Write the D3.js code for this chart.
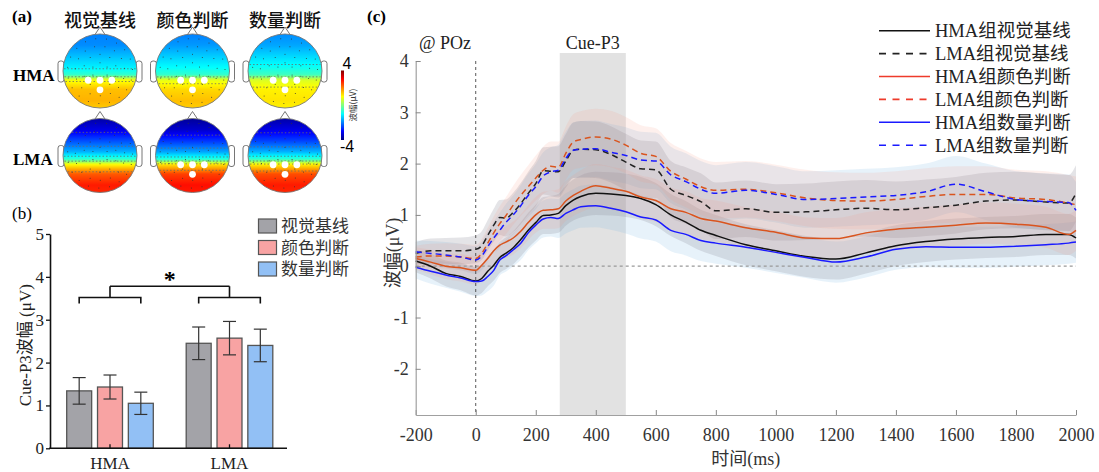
<!DOCTYPE html>
<html><head><meta charset="utf-8">
<script src="https://cdn.jsdelivr.net/npm/d3@7"></script>
<style>body{margin:0;background:#fff}svg{display:block}</style>
</head><body><svg id="chart" width="1099" height="472"></svg>
<script>
// ---------------- DATA ----------------
// (a) topographic maps: front-to-back value profiles (µV)
const topoConditions = ["视觉基线", "颜色判断", "数量判断"];
const topoGroups = ["HMA", "LMA"];
const topoStops = [0, 0.15, 0.3, 0.45, 0.55, 0.62, 0.75, 0.9, 1];
const topoHmaVisual = [-2.0, -1.9, -1.5, -1.1, -0.6, 0.9, 1.5, 1.6, 1.4];
const topoHmaColor  = [-2.0, -1.8, -1.4, -1.0, -0.6, 0.8, 1.3, 1.5, 1.4];
const topoHmaNumber = [-1.9, -1.7, -1.3, -0.9, -0.5, 0.7, 1.1, 1.2, 1.1];
const topoLmaVisual = [-3.7, -3.2, -2.4, -1.6, -0.6, 1.0, 2.3, 2.8, 2.7];
const topoLmaColor  = [-3.8, -3.4, -2.6, -1.7, -0.7, 1.2, 2.5, 2.9, 2.8];
const topoLmaNumber = [-3.7, -3.2, -2.5, -1.6, -0.6, 1.1, 2.4, 2.8, 2.7];
const topoMarked = [[true, true, true], [false, true, true]];
const colorbarTicks = ["4", "-4"];

// (b) bar chart
const barGroups = ["HMA", "LMA"];
const barConditions = ["视觉基线", "颜色判断", "数量判断"];
const hmaBarMeans = [1.34, 1.43, 1.05];
const hmaBarErr   = [0.31, 0.28, 0.26];
const lmaBarMeans = [2.45, 2.57, 2.40];
const lmaBarErr   = [0.38, 0.39, 0.38];
const barTicks = [0, 1, 2, 3, 4, 5];

// (c) ERP waveforms @ POz
const times = [-200,-150,-100,-50,0,20,40,60,80,100,125,150,175,200,225,250,275,300,325,350,400,450,500,550,600,650,700,750,800,900,1000,1100,1200,1300,1400,1500,1600,1700,1800,1900,1975,2000];
const hmaVisual = [0.10,0.0,-0.14,-0.2,-0.29,-0.24,-0.1,0.02,0.17,0.25,0.36,0.52,0.7,0.85,0.99,1.0,1.03,1.18,1.29,1.36,1.42,1.41,1.38,1.32,1.2,1.0,0.86,0.7,0.6,0.42,0.3,0.19,0.14,0.26,0.4,0.48,0.53,0.56,0.58,0.62,0.62,0.55];
const lmaVisual = [0.25,0.3,0.3,0.3,0.33,0.4,0.6,0.8,0.95,0.94,1.05,1.22,1.42,1.61,1.86,1.85,1.84,2.05,2.26,2.28,2.27,2.18,2.03,1.9,1.88,1.5,1.38,1.26,1.08,1.12,1.05,1.06,1.1,1.13,1.1,1.14,1.19,1.27,1.29,1.25,1.23,1.42];
const hmaColor  = [0.15,0.08,0.0,-0.03,-0.08,0.02,0.15,0.3,0.41,0.47,0.55,0.68,0.85,1.0,1.09,1.1,1.12,1.27,1.38,1.46,1.57,1.52,1.46,1.35,1.28,1.12,1.05,0.93,0.88,0.75,0.66,0.55,0.54,0.65,0.72,0.76,0.8,0.84,0.82,0.76,0.62,0.7];
const lmaColor  = [0.18,0.2,0.2,0.18,0.15,0.25,0.45,0.65,0.83,0.98,1.19,1.38,1.55,1.72,1.87,1.95,1.93,2.2,2.42,2.47,2.52,2.48,2.36,2.2,2.14,1.85,1.7,1.55,1.48,1.5,1.43,1.33,1.28,1.27,1.3,1.36,1.4,1.4,1.33,1.3,1.23,1.2];
const hmaNumber = [-0.02,-0.1,-0.17,-0.23,-0.3,-0.29,-0.2,-0.08,0.12,0.2,0.32,0.45,0.65,0.8,0.92,0.95,0.93,1.03,1.1,1.16,1.18,1.13,1.06,0.96,0.9,0.7,0.62,0.5,0.45,0.37,0.27,0.17,0.08,0.18,0.33,0.38,0.37,0.37,0.39,0.42,0.45,0.47];
const lmaNumber = [0.28,0.25,0.22,0.18,0.12,0.2,0.38,0.55,0.7,0.85,1.0,1.18,1.38,1.55,1.76,1.84,1.87,2.1,2.26,2.28,2.29,2.22,2.16,2.07,2.05,1.78,1.65,1.5,1.42,1.48,1.4,1.3,1.32,1.35,1.38,1.45,1.6,1.45,1.3,1.26,1.24,1.09];
const seHMA = [0.22,0.24,0.25,0.27,0.28,0.28,0.29,0.3,0.3,0.31,0.32,0.33,0.34,0.35,0.36,0.37,0.38,0.39,0.4,0.41,0.42,0.42,0.42,0.42,0.42,0.41,0.41,0.4,0.4,0.4,0.4,0.4,0.4,0.4,0.4,0.4,0.4,0.4,0.4,0.4,0.4,0.4];
const seLMA = [0.22,0.24,0.25,0.26,0.27,0.28,0.3,0.32,0.34,0.36,0.38,0.4,0.42,0.44,0.46,0.48,0.5,0.52,0.54,0.55,0.55,0.55,0.55,0.55,0.55,0.55,0.55,0.55,0.55,0.55,0.55,0.55,0.55,0.55,0.55,0.55,0.55,0.55,0.55,0.55,0.55,0.55];
const erpXTicks = [-200,0,200,400,600,800,1000,1200,1400,1600,1800,2000];
const erpYTicks = [-2,-1,0,1,2,3,4];
const erpLegend = ["HMA组视觉基线","LMA组视觉基线","HMA组颜色判断","LMA组颜色判断","HMA组数量判断","LMA组数量判断"];
const cueWindow = [280, 500];

// ---------------- DRAW ----------------
const SERIF = "'Liberation Serif','Times New Roman','Noto Sans CJK SC',serif";
const CJK = "'Noto Sans CJK SC','Liberation Serif',sans-serif";
const plain = d => String(d);
const svg = d3.select("#chart");
svg.append("rect").attr("width",1099).attr("height",472).attr("fill","#fff");
const defs = svg.append("defs");

function jet(t){
  const c = x => Math.max(0, Math.min(1, x));
  return d3.rgb(255*c(1.5-Math.abs(4*t-3)), 255*c(1.5-Math.abs(4*t-2)), 255*c(1.5-Math.abs(4*t-1))).formatHex();
}
const vToT = d3.scaleLinear().domain([-4,4]).range([0,1]).clamp(true);

// ===== (a) =====
svg.append("text").attr("x",12).attr("y",22).attr("font-family",SERIF).attr("font-weight","bold").attr("font-size",17).text("(a)");
const colX = d3.scalePoint().domain(topoConditions).range([100,285]);
const rowY = d3.scalePoint().domain(topoGroups).range([71,155.5]);
const R = 37;
topoConditions.forEach(c => {
  svg.append("text").attr("x",colX(c)).attr("y",27).attr("text-anchor","middle")
    .attr("font-family",CJK).attr("font-weight",500).attr("font-size",18).attr("fill","#111").text(c);
});
topoGroups.forEach(g => {
  svg.append("text").attr("x",13).attr("y",rowY(g)+9.5).attr("font-family",SERIF)
    .attr("font-weight","bold").attr("font-size",17).text(g);
});
const profiles = [[topoHmaVisual, topoHmaColor, topoHmaNumber],[topoLmaVisual, topoLmaColor, topoLmaNumber]];
const rings = [[0.22,6],[0.45,10],[0.67,15],[0.88,19]];
topoGroups.forEach((g, gi) => {
  topoConditions.forEach((c, ci) => {
    const cx = colX(c), cy = rowY(g), prof = profiles[gi][ci];
    const interp = d3.scaleLinear().domain(topoStops).range(prof);
    const id = `grad${gi}${ci}`;
    const grad = defs.append("linearGradient").attr("id",id).attr("x1",0).attr("y1",0).attr("x2",0).attr("y2",1);
    d3.range(0,61).forEach(k => {
      const p = k/60;
      grad.append("stop").attr("offset",p).attr("stop-color",jet(vToT(interp(p))));
    });
    const head = svg.append("g");
    [-1,1].forEach(s => {
      head.append("rect").attr("x", s<0 ? cx-R-5 : cx+R-1).attr("y",cy-10).attr("width",6).attr("height",21)
        .attr("rx",2.5).attr("fill","#fff").attr("stroke","#666").attr("stroke-width",0.9);
    });
    head.append("path").attr("d",`M${cx-6},${cy-R+2}L${cx},${cy-R-7}L${cx+6},${cy-R+2}`)
      .attr("fill","#fff").attr("stroke","#666").attr("stroke-width",0.9);
    head.append("circle").attr("cx",cx).attr("cy",cy).attr("r",R).attr("fill",`url(#${id})`)
      .attr("stroke","#777").attr("stroke-width",0.9);
    [-3,-2,-1,0,1,2,3].forEach(lv => {
      for (let k=0;k<prof.length-1;k++){
        const a=prof[k], b=prof[k+1];
        if ((a-lv)*(b-lv) < 0){
          const p = topoStops[k] + (lv-a)/(b-a)*(topoStops[k+1]-topoStops[k]);
          const dy = -R + 2*R*p; const hw = Math.sqrt(Math.max(0,R*R-dy*dy))-1;
          head.append("line").attr("x1",cx-hw).attr("x2",cx+hw).attr("y1",cy+dy).attr("y2",cy+dy)
            .attr("stroke","#6a6a6a").attr("stroke-width",0.8).attr("stroke-dasharray","1.5,2");
        }
      }
    });
    rings.forEach(([rf,n]) => {
      d3.range(n).forEach(k => {
        const ang = 2*Math.PI*k/n + (n%2?0.2:0);
        head.append("circle").attr("cx",cx+rf*R*Math.sin(ang)).attr("cy",cy-rf*R*Math.cos(ang)).attr("r",0.5).attr("fill","#333");
      });
    });
    if (topoMarked[gi][ci]) {
      [[-0.32,0.25],[0,0.25],[0.32,0.25],[0,0.51]].forEach(([dx,dy]) => {
        head.append("circle").attr("cx",cx+dx*R).attr("cy",cy+dy*R).attr("r",3.4).attr("fill","#fff");
      });
    }
  });
});
const cbGrad = defs.append("linearGradient").attr("id","cbar").attr("x1",0).attr("y1",0).attr("x2",0).attr("y2",1);
d3.range(0,41).forEach(k => cbGrad.append("stop").attr("offset",k/40).attr("stop-color",jet(1-k/40)));
svg.append("rect").attr("x",341).attr("y",70.5).attr("width",3).attr("height",69.5).attr("fill","url(#cbar)");
svg.append("text").attr("x",347).attr("y",68.5).attr("text-anchor","middle").attr("font-family","'Liberation Sans',Arial,sans-serif").attr("font-size",16).text(colorbarTicks[0]);
svg.append("text").attr("x",347).attr("y",152).attr("text-anchor","middle").attr("font-family","'Liberation Sans',Arial,sans-serif").attr("font-size",16).text(colorbarTicks[1]);
svg.append("text").attr("transform","translate(356,105) rotate(-90)").attr("text-anchor","middle")
  .attr("font-family",CJK).attr("font-size",8.5).attr("fill","#333").text("波幅(μV)");

// ===== (b) =====
svg.append("text").attr("x",12).attr("y",219).attr("font-family",SERIF).attr("font-size",17).text("(b)");
const yB = d3.scaleLinear().domain([0,5]).range([448.3,234]);
const xG = d3.scalePoint().domain(barGroups).range([110,229.5]);
const xI = d3.scaleBand().domain(barConditions).range([-43.3,43.3]).paddingInner(0.19).paddingOuter(0);
const barFill = ["#a3a3a8","#f8a3a3","#92c0f5"];
const means = [hmaBarMeans, lmaBarMeans], errs = [hmaBarErr, lmaBarErr];
barGroups.forEach((g, gi) => {
  barConditions.forEach((c, ci) => {
    const x0 = xG(g) + xI(c), w = xI.bandwidth(), m = means[gi][ci], e = errs[gi][ci];
    svg.append("rect").attr("x",x0).attr("y",yB(m)).attr("width",w).attr("height",yB(0)-yB(m))
      .attr("fill",barFill[ci]).attr("stroke","#555").attr("stroke-width",1.3);
    const xc = x0 + w/2;
    svg.append("line").attr("x1",xc).attr("x2",xc).attr("y1",yB(m-e)).attr("y2",yB(m+e)).attr("stroke","#333").attr("stroke-width",1.2);
    [m-e, m+e].forEach(v => svg.append("line").attr("x1",xc-6.5).attr("x2",xc+6.5).attr("y1",yB(v)).attr("y2",yB(v)).attr("stroke","#333").attr("stroke-width",1.2));
  });
});
const yAxB = svg.append("g").attr("transform","translate(50,0)")
  .call(d3.axisLeft(yB).tickValues(barTicks).tickSizeInner(4).tickSizeOuter(0).tickPadding(2).tickFormat(plain));
yAxB.select(".domain").attr("stroke","#111").attr("stroke-width",1.6);
yAxB.selectAll(".tick line").attr("stroke","#111").attr("stroke-width",1.3);
yAxB.selectAll("text").attr("font-family",SERIF).attr("font-size",17).attr("fill","#222");
svg.append("line").attr("x1",49.2).attr("x2",287).attr("y1",yB(0)).attr("y2",yB(0)).attr("stroke","#111").attr("stroke-width",1.6);
barGroups.forEach(g => {
  svg.append("line").attr("x1",xG(g)).attr("x2",xG(g)).attr("y1",yB(0)).attr("y2",yB(0)-4).attr("stroke","#111").attr("stroke-width",1.3);
  svg.append("text").attr("x",xG(g)).attr("y",469).attr("text-anchor","middle").attr("font-family",SERIF).attr("font-size",17).attr("fill","#222").text(g);
});
svg.append("text").attr("transform",`translate(31,${(yB(0)+yB(5))/2+4}) rotate(-90)`).attr("text-anchor","middle")
  .attr("font-family",SERIF).attr("font-size",17).attr("fill","#222").text("Cue-P3波幅 (μV)");
const br = svg.append("g").attr("stroke","#111").attr("stroke-width",1.6).attr("fill","none");
barGroups.forEach(g => {
  const xl = xG(g)+xI(barConditions[0])+xI.bandwidth()/2, xr = xG(g)+xI(barConditions[2])+xI.bandwidth()/2;
  br.append("path").attr("d",`M${xl},${yB(3.38)}V${yB(3.52)}H${xr}V${yB(3.38)}M${xG(g)},${yB(3.52)}V${yB(3.78)}`);
});
br.append("path").attr("d",`M${xG("HMA")},${yB(3.78)}H${xG("LMA")}`);
svg.append("text").attr("x",(xG("HMA")+xG("LMA"))/2).attr("y",yB(3.78)+0.5).attr("text-anchor","middle")
  .attr("font-family",SERIF).attr("font-weight","bold").attr("font-size",24).text("*");
barConditions.forEach((c, ci) => {
  const yc = [226,247.5,269][ci];
  svg.append("rect").attr("x",258.5).attr("y",yc-7).attr("width",18).attr("height",14).attr("fill",barFill[ci]).attr("stroke","#555").attr("stroke-width",1.2);
  svg.append("text").attr("x",281).attr("y",yc+6).attr("font-family",SERIF).attr("font-size",17).attr("fill","#333").text(c);
});

// ===== (c) =====
svg.append("text").attr("x",367).attr("y",22).attr("font-family",SERIF).attr("font-weight","bold").attr("font-size",17).text("(c)");
const xC = d3.scaleLinear().domain([-200,2000]).range([415.7,1076]);
const yC = d3.scaleLinear().domain([-2.9,4]).range([415,61]);
svg.append("rect").attr("x",xC(cueWindow[0])).attr("y",53).attr("width",xC(cueWindow[1])-xC(cueWindow[0])).attr("height",415-53).attr("fill","#e2e2e2");
svg.append("text").attr("x",(xC(cueWindow[0])+xC(cueWindow[1]))/2).attr("y",49).attr("text-anchor","middle").attr("font-family",SERIF).attr("font-size",18).attr("fill","#222").text("Cue-P3");
svg.append("text").attr("x",419).attr("y",49).attr("font-family",SERIF).attr("font-size",18).attr("fill","#222").text("@ POz");

const series = [
  {v:hmaVisual, se:seHMA, color:"#111111", legendColor:"#111111", dash:null, band:"rgba(130,130,145,0.22)"},
  {v:lmaVisual, se:seLMA, color:"#222222", legendColor:"#222222", dash:"6,4", band:"rgba(130,130,145,0.22)"},
  {v:hmaColor,  se:seHMA, color:"#d9541e", legendColor:"#ee3b2b", dash:null, band:"rgba(245,150,125,0.14)"},
  {v:lmaColor,  se:seLMA, color:"#d9541e", legendColor:"#ee3b2b", dash:"6,4", band:"rgba(245,150,125,0.14)"},
  {v:hmaNumber, se:seHMA, color:"#1a1aff", legendColor:"#1a1aff", dash:null, band:"rgba(120,185,230,0.18)"},
  {v:lmaNumber, se:seLMA, color:"#1a1aff", legendColor:"#1a1aff", dash:"6,4", band:"rgba(120,185,230,0.18)"}
];
const area = d3.area().x((d,i)=>xC(times[i])).curve(d3.curveMonotoneX);
const line = d3.line().x((d,i)=>xC(times[i])).y(d=>yC(d)).curve(d3.curveMonotoneX);
[4,5,0,1,2,3].forEach(k => {
  const s = series[k];
  svg.append("path").datum(s.v).attr("fill",s.band)
    .attr("d", area.y0((d,i)=>yC(d - s.se[i])).y1((d,i)=>yC(d + s.se[i])));
});
svg.append("line").attr("x1",xC(-200)).attr("x2",xC(2000)).attr("y1",yC(0)).attr("y2",yC(0)).attr("stroke","#999").attr("stroke-width",1.2).attr("stroke-dasharray","3,3");
svg.append("line").attr("x1",xC(0)).attr("x2",xC(0)).attr("y1",yC(4)).attr("y2",yC(-2.9)).attr("stroke","#444").attr("stroke-width",0.9).attr("stroke-dasharray","3,3");
[0,2,4,1,3,5].forEach(k => {
  const s = series[k];
  svg.append("path").datum(s.v).attr("fill","none").attr("stroke",s.color).attr("stroke-width",1.5)
    .attr("stroke-dasharray",s.dash).attr("d",line);
});
const xAx = svg.append("g").attr("transform","translate(0,415)")
  .call(d3.axisBottom(xC).tickValues(erpXTicks).tickSizeInner(-5).tickSizeOuter(0).tickPadding(13).tickFormat(plain));
const yAx = svg.append("g").attr("transform",`translate(${xC(-200)},0)`)
  .call(d3.axisLeft(yC).tickValues(erpYTicks).tickSizeInner(-5).tickSizeOuter(0).tickPadding(7).tickFormat(plain));
[xAx,yAx].forEach(a => {
  a.select(".domain").attr("stroke","#a0a0a0").attr("stroke-width",1.2);
  a.selectAll(".tick line").attr("stroke","#888");
  a.selectAll("text").attr("font-family",SERIF).attr("font-size",18).attr("fill","#333");
});
svg.append("text").attr("x",(xC(-200)+xC(2000))/2).attr("y",465).attr("text-anchor","middle").attr("font-family",SERIF).attr("font-size",18).attr("fill","#333").text("时间(ms)");
svg.append("text").attr("transform","translate(399,253) rotate(-90)").attr("text-anchor","middle").attr("font-family",SERIF).attr("font-size",18).attr("fill","#333").text("波幅(μV)");
erpLegend.forEach((lab, k) => {
  const yc = 30.7 + k*22.9, s = series[k];
  svg.append("line").attr("x1",879).attr("x2",930).attr("y1",yc).attr("y2",yc).attr("stroke",s.legendColor).attr("stroke-width",1.6).attr("stroke-dasharray",s.dash ? "7,6.5" : null);
  svg.append("text").attr("x",935).attr("y",yc+6.5).attr("font-family",SERIF).attr("font-size",18.5).attr("fill","#222").text(lab);
});
</script></body></html>
